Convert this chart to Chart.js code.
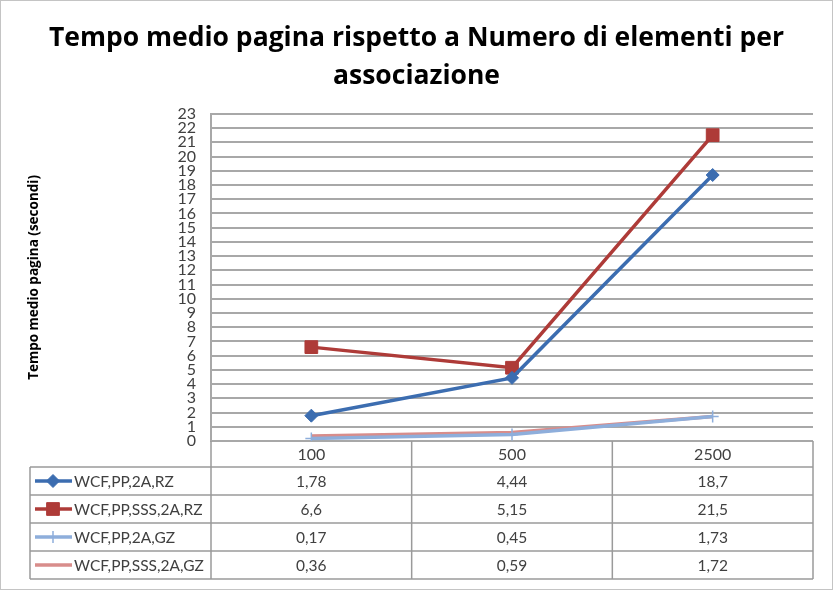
<!DOCTYPE html>
<html>
<head>
<meta charset="utf-8">
<script src="https://cdn.jsdelivr.net/npm/chart.js@4/dist/chart.umd.min.js"></script>
<style>
  html, body { margin: 0; padding: 0; background: #ffffff; }
  canvas { display: block; }
</style>
</head>
<body>
<canvas id="chart" width="833" height="590"></canvas>
<script>
// Chart data
const categories = ['100', '500', '2500'];
const seriesNames = ['WCF,PP,2A,RZ', 'WCF,PP,SSS,2A,RZ', 'WCF,PP,2A,GZ', 'WCF,PP,SSS,2A,GZ'];
const rz2aValues = [1.78, 4.44, 18.7];
const rzSssValues = [6.6, 5.15, 21.5];
const gz2aValues = [0.17, 0.45, 1.73];
const gzSssValues = [0.36, 0.59, 1.72];
const yTicksMax = 23;

const titleLines = ['Tempo medio pagina rispetto a Numero di elementi per', 'associazione'];
const yTitle = 'Tempo medio pagina (secondi)';

const FONT = 'Lato, "Open Sans", sans-serif';
const TITLE_FONT = '"Open Sans", Lato, sans-serif';
const TEXT = '#404040';
const GRID = '#a8a8a8';
const TABLE_LINE = '#9a9a9a';

// Draws the data table under the plot (legend keys + values)
const dataTablePlugin = {
    id: 'dataTable',
    afterDraw(chart) {
        const ctx = chart.ctx;
        const area = chart.chartArea;
        const xs = chart.scales.x;
        const sets = chart.data.datasets;
        const tableLeft = 30;
        const headerBottom = area.bottom + 26;
        const rowH = 28;
        const tableBottom = headerBottom + rowH * sets.length;

        const edges = [area.left];
        for (let i = 0; i < categories.length - 1; i++) {
            edges.push((xs.getPixelForValue(i) + xs.getPixelForValue(i + 1)) / 2);
        }
        edges.push(area.right);

        ctx.save();
        ctx.strokeStyle = TABLE_LINE;
        ctx.lineWidth = 1.5;
        ctx.beginPath();
        edges.forEach(x => {
            ctx.moveTo(x, area.bottom);
            ctx.lineTo(x, tableBottom);
        });
        ctx.moveTo(tableLeft, headerBottom);
        ctx.lineTo(tableLeft, tableBottom);
        for (let r = 0; r <= sets.length; r++) {
            const y = headerBottom + r * rowH;
            ctx.moveTo(tableLeft, y);
            ctx.lineTo(area.right, y);
        }
        ctx.stroke();

        ctx.font = '15.5px ' + FONT;
        ctx.textBaseline = 'middle';
        sets.forEach((ds, r) => {
            const cy = headerBottom + r * rowH + rowH / 2;
            // legend key
            ctx.strokeStyle = ds.borderColor;
            ctx.lineWidth = 3.5;
            ctx.beginPath();
            ctx.moveTo(35, cy);
            ctx.lineTo(72, cy);
            ctx.stroke();
            if (ds.pointRadius > 0) {
                ctx.fillStyle = ds.pointBackgroundColor;
                ctx.strokeStyle = ds.pointBorderColor;
                ctx.lineWidth = ds.pointBorderWidth;
                Chart.helpers.drawPoint(ctx, {
                    pointStyle: ds.pointStyle,
                    radius: ds.pointRadius,
                    borderWidth: ds.pointBorderWidth,
                    rotation: 0
                }, 53, cy);
            }
            ctx.fillStyle = TEXT;
            ctx.textAlign = 'left';
            ctx.fillText(ds.label, 74, cy + 1);
            ctx.textAlign = 'center';
            ds.data.forEach((v, i) => {
                ctx.fillText(String(v).replace('.', ','), xs.getPixelForValue(i), cy + 1);
            });
        });

        // outer frame
        ctx.strokeStyle = '#c4c4c4';
        ctx.lineWidth = 1;
        ctx.strokeRect(0.5, 0.5, chart.width - 1, chart.height - 1);
        ctx.restore();
    }
};

function makeSeries(label, data, color, style, radius, borderWidth) {
    return {
        label: label,
        data: data,
        borderColor: color,
        backgroundColor: color,
        borderWidth: 3.5,
        pointStyle: style,
        pointRadius: radius,
        pointHoverRadius: radius,
        pointBackgroundColor: color,
        pointBorderColor: color,
        pointBorderWidth: borderWidth,
        tension: 0,
        fill: false
    };
}

new Chart(document.getElementById('chart').getContext('2d'), {
    type: 'line',
    data: {
        labels: categories,
        datasets: [
            makeSeries(seriesNames[0], rz2aValues, '#3c6db0', 'rectRot', 6.5, 1),
            makeSeries(seriesNames[1], rzSssValues, '#ae3b38', 'rect', 9, 1),
            makeSeries(seriesNames[2], gz2aValues, '#8eaedb', 'cross', 6, 1.5),
            makeSeries(seriesNames[3], gzSssValues, '#d88d8b', 'circle', 0, 0)
        ]
    },
    options: {
        responsive: false,
        devicePixelRatio: 1,
        animation: false,
        layout: { padding: { left: 20, right: 20, top: 0, bottom: 0 } },
        plugins: {
            legend: { display: false },
            tooltip: { enabled: false },
            title: {
                display: true,
                text: titleLines,
                color: '#000000',
                font: { family: TITLE_FONT, size: 26.5, weight: 'bold', lineHeight: 1.45 },
                padding: { top: 19, bottom: 18 }
            }
        },
        scales: {
            x: {
                offset: true,
                grid: { display: false, drawTicks: false },
                border: { display: false },
                ticks: { color: TEXT, font: { family: FONT, size: 16 }, padding: 4, maxRotation: 0 },
                afterFit(scale) { scale.height = 149; }
            },
            y: {
                min: 0,
                max: yTicksMax,
                grid: { color: GRID, lineWidth: 2, drawTicks: false },
                border: { display: true, color: GRID, width: 2 },
                ticks: {
                    stepSize: 1,
                    autoSkip: false,
                    color: TEXT,
                    padding: 15,
                    font: { family: FONT, size: 16, lineHeight: 0.9 }
                },
                title: {
                    display: true,
                    text: yTitle,
                    color: '#000000',
                    font: { family: TITLE_FONT, size: 13.5, weight: 'bold' },
                    padding: { top: 6, bottom: 0 }
                },
                afterFit(scale) { scale.width = 191; }
            }
        }
    },
    plugins: [dataTablePlugin]
});
</script>
</body>
</html>
